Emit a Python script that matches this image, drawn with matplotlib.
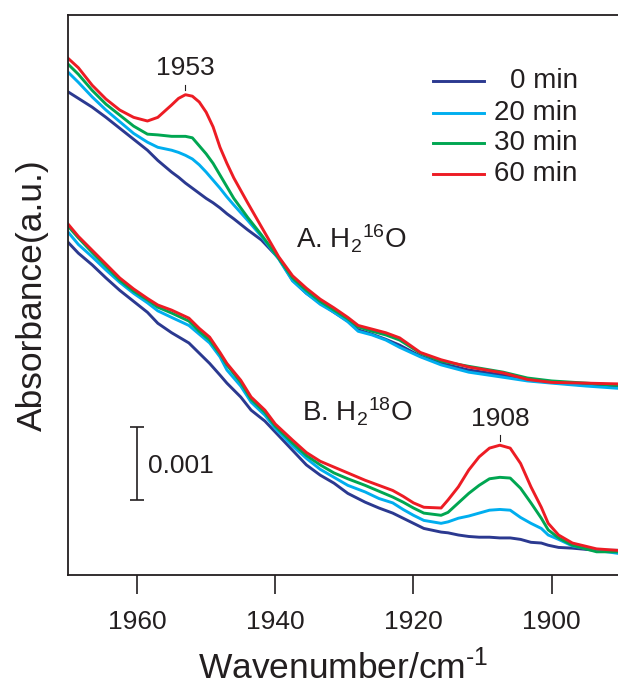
import numpy as np
import matplotlib
matplotlib.use("Agg")
import matplotlib.pyplot as plt

plt.rcParams['font.family'] = ['Liberation Sans', 'DejaVu Sans']
plt.rcParams['mathtext.fontset'] = 'custom'
plt.rcParams['mathtext.rm'] = 'Liberation Sans'
plt.rcParams['mathtext.it'] = 'Liberation Sans:italic'
plt.rcParams['mathtext.bf'] = 'Liberation Sans:bold'

# Absorbance values in units of 1e-3 (offset is arbitrary, as in the original)

# A. H2(16)O
wn_a = [1970, 1968.5, 1966.5, 1964.5, 1962.5, 1960.5, 1958.5, 1957, 1955, 1954, 1953,
        1952, 1951, 1950, 1949, 1948, 1947, 1946, 1944, 1942, 1939.5, 1937.5, 1935.5,
        1933.5, 1931.5, 1929.5, 1928, 1926, 1924, 1922, 1919, 1916, 1912, 1907,
        1903.5, 1900, 1895, 1890.5]
a_0min = [6.62, 6.53, 6.41, 6.27, 6.12, 5.97, 5.82, 5.68, 5.52, 5.45, 5.37, 5.30, 5.23,
          5.16, 5.10, 5.03, 4.95, 4.88, 4.73, 4.59, 4.34, 4.04, 3.86, 3.73, 3.60, 3.48,
          3.36, 3.30, 3.23, 3.15, 3.00, 2.90, 2.81, 2.74, 2.67, 2.64, 2.60, 2.59]
a_20min = [6.89, 6.75, 6.55, 6.37, 6.21, 6.05, 5.93, 5.86, 5.82, 5.79, 5.75, 5.70, 5.62,
           5.52, 5.41, 5.30, 5.18, 5.07, 4.86, 4.64, 4.33, 4.03, 3.86, 3.71, 3.60, 3.47,
           3.34, 3.29, 3.22, 3.12, 2.99, 2.88, 2.78, 2.71, 2.66, 2.63, 2.59, 2.56]
a_30min = [7.00, 6.86, 6.64, 6.45, 6.30, 6.15, 6.04, 6.03, 6.01, 6.01, 6.01, 5.99, 5.88,
           5.77, 5.64, 5.48, 5.32, 5.16, 4.90, 4.66, 4.34, 4.07, 3.90, 3.75, 3.63, 3.51,
           3.40, 3.34, 3.29, 3.22, 3.04, 2.93, 2.86, 2.78, 2.70, 2.66, 2.63, 2.60]
a_60min = [7.08, 6.95, 6.71, 6.52, 6.37, 6.27, 6.22, 6.27, 6.44, 6.53, 6.58, 6.56, 6.48,
           6.34, 6.14, 5.86, 5.64, 5.44, 5.10, 4.77, 4.36, 4.10, 3.93, 3.78, 3.66, 3.53,
           3.42, 3.37, 3.32, 3.25, 3.05, 2.95, 2.85, 2.77, 2.68, 2.64, 2.63, 2.62]

# B. H2(18)O
wn_b = [1970, 1968.5, 1966.5, 1964.5, 1962.5, 1960.5, 1958.5, 1957, 1955, 1952.5, 1951,
        1949.5, 1948, 1947, 1945, 1943.5, 1941.5, 1940, 1937.5, 1935.5, 1933.5, 1931.5,
        1929.5, 1927, 1925, 1923, 1921.5, 1920, 1918.5, 1916, 1915, 1913.5, 1912,
        1910.5, 1909, 1907.5, 1906, 1904.5, 1903, 1901.5, 1900.5, 1899, 1897, 1893.5,
        1890.5]
b_0min = [4.56, 4.41, 4.25, 4.07, 3.90, 3.75, 3.60, 3.45, 3.32, 3.18, 3.04, 2.90, 2.74,
          2.63, 2.44, 2.26, 2.11, 1.96, 1.71, 1.51, 1.37, 1.26, 1.12, 1.00, 0.92, 0.85,
          0.78, 0.71, 0.64, 0.59, 0.58, 0.55, 0.53, 0.52, 0.52, 0.51, 0.51, 0.49, 0.45,
          0.44, 0.41, 0.38, 0.37, 0.34, 0.34]
b_20min = [4.70, 4.53, 4.36, 4.18, 4.01, 3.86, 3.73, 3.62, 3.53, 3.42, 3.30, 3.18, 2.99,
           2.81, 2.59, 2.37, 2.19, 2.01, 1.77, 1.60, 1.45, 1.34, 1.23, 1.14, 1.05, 0.99,
           0.90, 0.82, 0.75, 0.71, 0.73, 0.78, 0.81, 0.85, 0.89, 0.90, 0.89, 0.79, 0.71,
           0.64, 0.55, 0.49, 0.40, 0.34, 0.30]
b_30min = [4.78, 4.62, 4.42, 4.23, 4.04, 3.89, 3.77, 3.67, 3.59, 3.48, 3.34, 3.22, 3.03,
           2.88, 2.64, 2.41, 2.23, 2.04, 1.81, 1.64, 1.51, 1.40, 1.32, 1.23, 1.15, 1.07,
           1.00, 0.92, 0.85, 0.82, 0.86, 0.99, 1.12, 1.23, 1.32, 1.34, 1.33, 1.19, 0.99,
           0.78, 0.62, 0.51, 0.41, 0.32, 0.32]
b_60min = [4.81, 4.64, 4.45, 4.26, 4.07, 3.92, 3.79, 3.70, 3.63, 3.52, 3.38, 3.26, 3.05,
           2.90, 2.67, 2.44, 2.26, 2.07, 1.85, 1.68, 1.56, 1.48, 1.40, 1.30, 1.23, 1.16,
           1.08, 0.99, 0.93, 0.92, 1.03, 1.21, 1.44, 1.62, 1.74, 1.78, 1.74, 1.53, 1.21,
           0.93, 0.71, 0.55, 0.44, 0.36, 0.34]

labels = ['0 min', '20 min', '30 min', '60 min']
colors = ['#2b3990', '#00aeef', '#00a651', '#ed1c24']
xticks = [1960, 1940, 1920, 1900]

dark = '#231f20'

fig = plt.figure(figsize=(6.18, 6.88), dpi=100)
ax = fig.add_axes([0.110, 0.164, 0.890, 0.814])

series_a = [a_0min, a_20min, a_30min, a_60min]
series_b = [b_0min, b_20min, b_30min, b_60min]
for ya, yb, c in zip(series_a, series_b, colors):
    ax.plot(wn_a, ya, color=c, lw=2.1, solid_joinstyle='round')
    ax.plot(wn_b, yb, color=c, lw=2.1, solid_joinstyle='round')

ax.set_xlim(1970, 1890.4)
ax.set_ylim(0, 7.67)
ax.set_xticks(xticks)
ax.set_yticks([])
ax.tick_params(axis='x', direction='out', length=14, width=1.2, color=dark,
               labelsize=19, labelcolor=dark, pad=11)
for s in ['left', 'top', 'bottom']:
    ax.spines[s].set_color(dark)
    ax.spines[s].set_linewidth(1.3)
ax.spines['right'].set_visible(False)

ax.set_xlabel(r'Wavenumber/cm$^{\text{-}1}$', fontsize=25.5, color=dark, labelpad=11)
ax.set_ylabel('Absorbance(a.u.)', fontsize=25.5, color=dark, labelpad=14)

# legend, drawn by hand so the labels sit right-aligned
leg_y = [0.882, 0.825, 0.771, 0.716]
for lab, c, yy in zip(labels, colors, leg_y):
    ax.plot([0.664, 0.756], [yy, yy], color=c, lw=2.1, transform=ax.transAxes)
    ax.text(0.927, yy, lab, transform=ax.transAxes, ha='right', va='center',
            fontsize=20, color=dark)

# peak labels
pk_a = a_60min[wn_a.index(1953)]
ax.plot([1953, 1953], [pk_a + 0.06, pk_a + 0.14], color=dark, lw=0.8)
ax.text(1953, pk_a + 0.20, '1953', ha='center', va='bottom', fontsize=19, color=dark)
pk_b = b_60min[wn_b.index(1907.5)]
ax.plot([1907.5, 1907.5], [pk_b + 0.06, pk_b + 0.14], color=dark, lw=0.8)
ax.text(1907.5, pk_b + 0.20, '1908', ha='center', va='bottom', fontsize=19, color=dark)

ax.text(1937.0, 4.48, r'A. H$_2$$^{16}$O', fontsize=20, color=dark, va='baseline')
ax.text(1936.1, 2.10, r'B. H$_2$$^{18}$O', fontsize=20, color=dark, va='baseline')

# 0.001 scale bar
ax.vlines(1960, 1.03, 2.03, color=dark, lw=1.2)
ax.hlines([1.03, 2.03], 1961, 1959, color=dark, lw=1.2)
ax.text(1958.4, 1.50, '0.001', fontsize=19, color=dark, va='center', ha='left')

fig.savefig('out.png', dpi=100)
